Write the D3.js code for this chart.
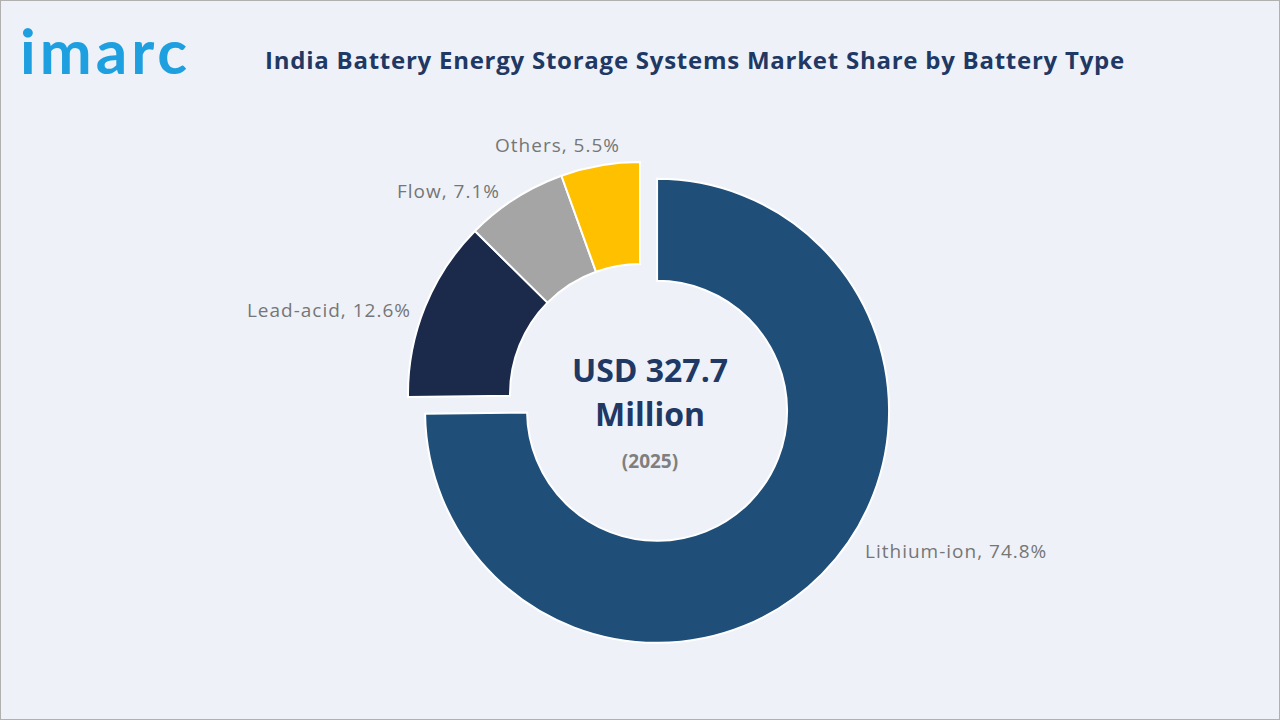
<!DOCTYPE html><html><head><meta charset="utf-8">
<script src="https://cdn.jsdelivr.net/npm/d3@7"></script>
<style>body{margin:0;background:#fff}svg{display:block}</style></head><body>
<svg id="c" width="1280" height="720"></svg>
<script>
const categories=["Lithium-ion","Lead-acid","Flow","Others"];
const values=[74.8,12.6,7.1,5.5];
const colors=["#1f4e79","#1b2a4a","#a5a5a5","#ffc000"];
const svg=d3.select("#c");
svg.append("rect").attr("x",0.5).attr("y",0.5).attr("width",1279).attr("height",719).attr("fill","#eef2f8").attr("stroke","#b0b0b0");
svg.append("text").attr("x",20).attr("y",74).attr("font-family","Lato, Open Sans, sans-serif").attr("font-size",62).attr("font-weight",700).attr("fill","#1ea0e0").attr("letter-spacing",4).text("imarc");
svg.append("text").attr("x",695).attr("y",69).attr("text-anchor","middle").attr("font-family","Open Sans, sans-serif").attr("font-size",24).attr("font-weight",700).attr("letter-spacing",0.75).attr("fill","#1f3864").text("India Battery Energy Storage Systems Market Share by Battery Type");
const cx=640,cy=394,ri=130,ro=232;
const pie=d3.pie().sort(null).value(d=>d)(values);
const arc=d3.arc().innerRadius(ri).outerRadius(ro);
const g=svg.append("g").attr("transform",`translate(${cx},${cy})`);
pie.forEach((p,i)=>{
  const off=i===0?24:0, m=(p.startAngle+p.endAngle)/2;
  g.append("path").attr("d",arc(p)).attr("fill",colors[i]).attr("stroke","#fff").attr("stroke-width",2)
   .attr("transform",`translate(${off*Math.sin(m)},${-off*Math.cos(m)})`);
});
const labels=[[865,558,"start"],[411,317,"end"],[500,198,"end"],[620,152,"end"]];
labels.forEach((l,i)=>svg.append("text").attr("x",l[0]).attr("y",l[1]).attr("text-anchor",l[2]).attr("font-family","Open Sans, sans-serif").attr("font-size",19).attr("letter-spacing",1).attr("fill","#767676").text(`${categories[i]}, ${values[i]}%`));
const ct=[[382,"USD 327.7",32,"#1f3864"],[426,"Million",32,"#1f3864"],[468,"(2025)",19,"#7f7f7f"]];
ct.forEach(t=>svg.append("text").attr("x",650).attr("y",t[0]).attr("text-anchor","middle").attr("font-family","Open Sans, sans-serif").attr("font-weight",700).attr("font-size",t[2]).attr("fill",t[3]).text(t[1]));
</script></body></html>
